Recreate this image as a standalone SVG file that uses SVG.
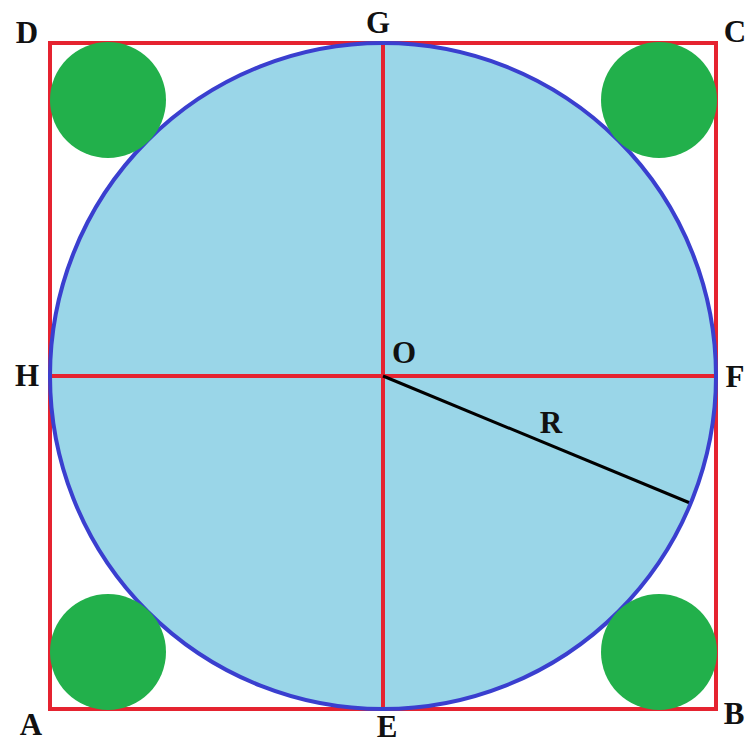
<svg xmlns="http://www.w3.org/2000/svg" width="745" height="745" viewBox="0 0 745 745">
<style>
.lbl{font-family:"Liberation Serif","Times New Roman",serif;font-weight:bold;font-size:31px;fill:#111;text-anchor:middle}
.red{stroke:#e52330;stroke-width:4;fill:none}
.green{fill:#22b04b}
</style>
<rect width="745" height="745" fill="#fff"/>
<g id="square"><rect class="red" x="50" y="43" width="666" height="666"/></g>
<g id="circle-fill"><circle cx="383" cy="376" r="333" fill="#9ad6e8"/></g>
<g id="connectors">
<line class="red" x1="383" y1="43" x2="383" y2="709"/>
<line class="red" x1="50" y1="376" x2="716" y2="376"/>
<line x1="383" y1="376" x2="690" y2="503" stroke="#000" stroke-width="3"/>
</g>
<g id="circle"><circle cx="383" cy="376" r="333" fill="none" stroke="#3a3fcf" stroke-width="4"/></g>
<g id="corner-D"><circle class="green" cx="108" cy="100" r="58"/></g>
<g id="corner-C"><circle class="green" cx="659" cy="100" r="58"/></g>
<g id="corner-A"><circle class="green" cx="108" cy="652" r="58"/></g>
<g id="corner-B"><circle class="green" cx="659" cy="652" r="58"/></g>
<g id="labels">
<text class="lbl" x="27" y="43">D</text>
<text class="lbl" x="378" y="33">G</text>
<text class="lbl" x="735" y="42">C</text>
<text class="lbl" x="27" y="386">H</text>
<text class="lbl" x="404" y="363">O</text>
<text class="lbl" x="735" y="387">F</text>
<text class="lbl" x="551" y="433">R</text>
<text class="lbl" x="31" y="735">A</text>
<text class="lbl" x="387" y="737">E</text>
<text class="lbl" x="734" y="724">B</text>
</g>
</svg>
